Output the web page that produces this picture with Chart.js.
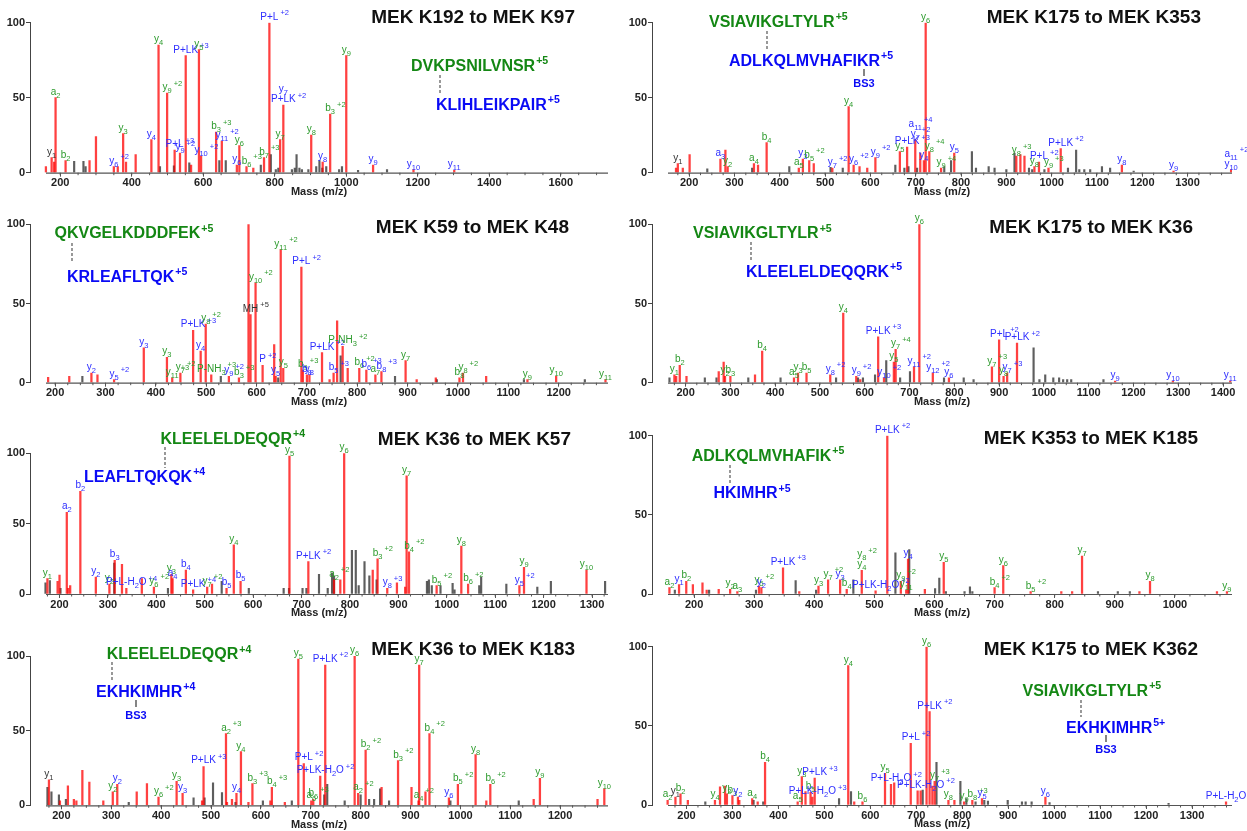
<!DOCTYPE html>
<html>
<head>
<meta charset="utf-8">
<script src="https://cdn.jsdelivr.net/npm/chart.js@4.4.1/dist/chart.umd.min.js"></script>
<style>
body { margin: 0; background: #fff; width: 1247px; height: 831px; overflow: hidden; position: relative; }
canvas { position: absolute; }
</style>
</head>
<body>
<canvas id="c1" width="620" height="200" style="left:0;top:0"></canvas>
<canvas id="c2" width="627" height="200" style="left:620px;top:0"></canvas>
<canvas id="c3" width="620" height="210" style="left:0;top:200px"></canvas>
<canvas id="c4" width="627" height="210" style="left:620px;top:200px"></canvas>
<canvas id="c5" width="620" height="210" style="left:0;top:410px"></canvas>
<canvas id="c6" width="627" height="210" style="left:620px;top:410px"></canvas>
<canvas id="c7" width="620" height="211" style="left:0;top:620px"></canvas>
<canvas id="c8" width="627" height="211" style="left:620px;top:620px"></canvas>
<script>
// matched peaks: [m/z, rel. intensity, label, label colour g/b/k]
// label markup: _ subscript digits, ^ superscript to end, | stacks lines
const p1Hit = [
  [160, 4, '', ''], [176, 10, 'y_1', 'k'], [183, 7, '', ''], [187, 50, 'a_2', 'g'], [215, 8, 'b_2', 'g'],
  [282, 8, '', ''], [300, 24, '', ''], [350, 4, 'y_6^+2', 'b'], [361, 4, '', ''], [376, 26, 'y_3', 'g'],
  [384, 7, '', ''], [411, 12, '', ''], [455, 22, 'y_4', 'b'], [475, 85, 'y_4', 'g'], [499, 53, 'y_9^+2', 'g'],
  [520, 15, 'P+L^+3', 'b'], [535, 13, 'y_9^+2', 'b'], [551, 78, 'P+LK^+3', 'b'], [566, 5, '', ''],
  [588, 82, 'y_5', 'g'], [594, 11, 'y_10^+2', 'b'], [636, 27, 'b_3^+3', 'g'], [652, 21, 'y_11^+2', 'b'],
  [694, 5, 'y_6', 'b'], [701, 18, 'y_6', 'g'], [721, 4, 'b_6^+3', 'g'], [740, 3, '', ''],
  [770, 10, 'b_7^+3', 'g'], [785, 100, 'P+L^+2', 'b'], [815, 22, 'y_7', 'g'], [824, 45, 'y_7|P+LK^+2', 'b'],
  [902, 25, 'y_8', 'g'], [934, 7, 'y_8', 'b'], [955, 39, 'b_3^+2', 'g'], [1000, 78, 'y_9', 'g'],
  [1075, 5, 'y_9', 'b'], [1188, 2, 'y_10', 'b'], [1302, 1.5, 'y_11', 'b']
];
const p1Other = [
  [239, 7.5], [265, 7.5], [271, 4], [479, 4], [518, 4.5], [561, 6.5], [645, 8], [663, 8], [761, 5],
  [789, 12], [803, 2], [810, 3], [848, 2], [856, 3], [861, 12], [869, 3], [876, 2], [894, 2], [916, 4],
  [925, 8], [933, 3], [944, 4], [980, 2], [988, 4], [1033, 1.5], [1114, 2]
];

const p2Hit = [
  [171, 3, '', ''], [175, 6, 'y_1', 'k'], [186, 3, '', ''], [201, 12, '', ''], [269, 9, 'a_3', 'b'],
  [280, 15, '', ''], [285, 4, 'y_2', 'g'], [343, 6, 'a_4', 'g'], [352, 5, '', ''], [371, 20, 'b_4', 'g'],
  [442, 3, 'a_5', 'g'], [451, 9, 'y_3', 'b'], [465, 8, 'b_5^+2', 'g'], [475, 6, '', ''], [516, 3, 'y_7^+2', 'b'],
  [552, 44, 'y_4', 'g'], [563, 5, 'y_6^+2', 'b'], [576, 4, '', ''], [593, 3, '', ''], [611, 10, 'y_9^+2', 'b'],
  [665, 14, 'y_5', 'g'], [681, 17, 'P+LK^+3', 'b'], [699, 22, 'a_11^+4|y_7^+2', 'b'], [710, 13, '', ''],
  [718, 8, 'y_4', 'b'], [722, 100, 'y_6', 'g'], [730, 14, 'y_8^+4', 'g'], [756, 3, 'y_9^+4', 'g'],
  [785, 13, 'y_5', 'b'], [922, 11, 'y_8^+3', 'g'], [931, 12, '', ''], [940, 11, '', ''], [962, 4, 'y_8', 'g'],
  [972, 7, 'P+L^+2', 'b'], [993, 3, 'y_9^+3', 'g'], [1020, 16, 'P+LK^+2', 'b'], [1155, 5, 'y_8', 'b'],
  [1269, 1, 'y_9', 'b'], [1396, 2, 'a_11^+2|y_10', 'b']
];
const p2Other = [
  [240, 2.5], [339, 3], [421, 4], [512, 3.5], [539, 3], [655, 5], [675, 3], [684, 4], [703, 3], [763, 4],
  [778, 8], [824, 14], [833, 3], [861, 4], [874, 3], [900, 2], [918, 13], [950, 3], [957, 2], [984, 2],
  [1036, 3], [1054, 15], [1061, 2], [1072, 2], [1085, 2], [1111, 4], [1129, 3], [1181, 1]
];

const p3Hit = [
  [186, 3.4, '', ''], [228, 4, '', ''], [272, 6, 'y_2', 'b'], [284, 5, '', ''], [317, 2, 'y_5^+2', 'b'],
  [376, 22, 'y_3', 'b'], [422, 16, 'y_3', 'g'], [432.5, 3, 'y_11^+3', 'g'], [448.7, 6, 'y_7^+2', 'g'],
  [474, 33, 'P+LK^+3', 'b'], [489, 20, 'y_4', 'b'], [499, 37, 'y_8^+2', 'g'], [510, 5, 'P-NH_3^+3', 'g'],
  [545, 4, 'y_9^+2', 'b'], [565, 3, 'b_3^+3', 'g'], [584, 100, '', ''], [588, 43, 'MH^+5', 'k'],
  [598, 63, 'y_10^+2', 'g'], [612, 11, 'P^+2', 'b'], [635, 24, '', ''], [638, 4, 'y_5', 'b'],
  [648, 84, 'y_11^+2', 'g'], [653, 9, 'y_5', 'g'], [689, 73, 'P+L^+2', 'b'], [692, 8, 'b_9^+3', 'g'],
  [700, 5, 'b_8', 'b'], [705, 5, 'y_8', 'b'], [730, 19, 'P+LK^+2', 'b'], [745, 2, '', ''],
  [753, 6, 'b_5^+3', 'b'], [760, 39, '', ''], [771, 23, 'P-NH_3^+2', 'g'], [781, 9, '', ''],
  [804, 9, 'b_6^+2', 'g'], [818, 8, 'b_6^+3', 'b'], [836, 5, 'a_7', 'g'], [848, 7, 'b_8^+3', 'b'],
  [896, 14, 'y_7', 'g'], [918, 2, '', ''], [956, 3, '', ''], [1003, 3, 'b_8', 'g'], [1010, 6, 'y_8^+2', 'g'],
  [1056, 4, '', ''], [1138, 2, 'y_9', 'g'], [1195, 4, 'y_10', 'g'], [1293, 2, 'y_11', 'g']
];
const p3Other = [[254, 4], [529, 4], [643, 3], [767, 17], [875, 4], [958, 2], [1131, 2], [1252, 2]];

const p4Hit = [
  [175, 5, 'y_1', 'g'], [179, 4, '', ''], [187, 11, 'b_2', 'g'], [202, 4, '', ''], [274, 7, '', ''],
  [285, 13, '', ''], [288, 4, 'y_2', 'g'], [300, 4, 'b_3', 'g'], [355, 5, '', ''], [371, 20, 'b_4', 'g'],
  [442, 3, 'a_5', 'g'], [451, 6, 'y_3', 'g'], [470, 6, 'b_5', 'g'], [523, 5, 'y_8^+2', 'b'],
  [552, 44, 'y_4', 'g'], [581, 4, 'y_9^+2', 'b'], [590, 2, '', ''], [630, 29, 'P+LK^+3', 'b'],
  [643, 3, 'y_10^+2', 'b'], [665, 13, 'y_5', 'g'], [669, 21, 'y_7^+4', 'g'], [710, 10, 'y_11^+2', 'b'],
  [722, 100, 'y_6', 'g'], [752, 6, 'y_12^+2', 'b'], [788, 3, 'y_6', 'b'], [884, 10, 'y_7^+3', 'g'],
  [900, 27, 'P+L^+2', 'b'], [910, 4, 'y_8', 'g'], [918, 6, 'y_7^+3', 'b'], [940, 25, 'P+LK^+2', 'b'],
  [1159, 1, 'y_9', 'b'], [1288, 1, 'y_10', 'b'], [1416, 1, 'y_11', 'b']
];
const p4Other = [
  [164, 3], [243, 3], [269, 3], [340, 3], [412, 3], [536, 3], [585, 3], [596, 3], [623, 5], [648, 14],
  [679, 3], [701, 7], [777, 3], [821, 3], [843, 2], [977, 22], [990, 2], [1003, 5], [1021, 3], [1034, 3],
  [1043, 2], [1052, 2], [1061, 2], [1133, 2]
];

const p5Hit = [
  [175, 11, 'y_1', 'g'], [196, 9, '', ''], [200, 13.5, '', ''], [215, 58, 'a_2', 'b'], [218, 4, '', ''],
  [222, 6, '', ''], [243, 73, 'b_2', 'b'], [275, 12, 'y_2', 'b'], [303, 7, 'y_2', 'g'], [314, 24, 'b_3', 'b'],
  [329, 21, '', ''], [338, 4, 'P+L-H_2O^+4', 'b'], [370, 11, '', ''], [395, 5, 'y_6^+2', 'g'],
  [431, 14, 'y_3', 'g'], [433.5, 11, 'a_4', 'b'], [461, 17, 'b_4', 'b'], [476, 3, 'P+LK^+4', 'b'],
  [505, 5, 'y_7^+2', 'g'], [515, 7, '', ''], [545, 4, 'b_5', 'b'], [560, 35, 'y_4', 'g'], [574, 9, 'b_5', 'b'],
  [675, 98, 'y_5', 'g'], [714, 23, 'P+LK^+2', 'b'], [767, 10, 'a_2^+2', 'g'], [780, 10, '', ''],
  [788, 100, 'y_6', 'g'], [847, 17, '', ''], [857, 25, 'b_3^+2', 'g'], [877, 4, 'y_8^+3', 'b'],
  [897, 8, '', ''], [914, 5, '', ''], [917, 84, 'y_7', 'g'], [922, 30, 'b_4^+2', 'g'], [979, 6, 'b_5^+2', 'g'],
  [1030, 34, 'y_8', 'g'], [1044, 7, 'b_6^+2', 'g'], [1150, 6, 'y_5^+2', 'b'], [1159.5, 19, 'y_9', 'g'],
  [1288.6, 17, 'y_10', 'g']
];
const p5Other = [
  [171, 8], [180, 9.5], [202, 4], [313, 22], [424, 4], [535, 9], [591, 4], [663, 4], [674, 4], [702, 4],
  [710, 4], [736, 14], [754, 4], [763, 15], [767, 13], [804, 31], [812, 31], [818, 6], [830, 23], [840, 13],
  [855, 10], [959, 9], [963, 10], [969, 6], [987, 6], [1012, 7.5], [1016, 3], [1067, 6], [1071, 12],
  [1123, 7], [1187, 5], [1215, 9], [1327, 9]
];

const p6Hit = [
  [159, 4, 'a_2', 'g'], [175, 6, 'y_1', 'b'], [187, 8, 'b_2', 'g'], [198, 6, '', ''], [214, 7, '', ''],
  [221, 2.5, '', ''], [241, 3, '', ''], [260, 3, 'y_2', 'g'], [272, 1.5, 'a_3', 'g'], [308, 5, 'y_5^+2', 'g'],
  [312, 4, 'y_2', 'b'], [348, 16.5, 'P+LK^+3', 'b'], [375, 1.5, '', ''], [407, 5, 'y_3', 'g'],
  [423, 9, 'y_7^+2', 'g'], [443, 9, 'y_3', 'b'], [454, 3, 'b_4', 'g'], [479, 15, 'y_8^+2|y_4', 'g'],
  [502, 2, 'P+LK-H_2O^+2', 'b'], [521.5, 100, 'P+LK^+2', 'b'], [544, 8, 'y_9^+2', 'g'], [553, 2.5, 'y_11', 'g'],
  [556, 22, 'y_4', 'b'], [584, 3, '', ''], [615.4, 20, 'y_5', 'g'], [700, 4, 'b_4^+2', 'g'],
  [714.4, 18, 'y_6', 'g'], [760, 1.5, 'b_5^+2', 'g'], [811, 1.5, '', ''], [829, 1.5, '', ''],
  [845.5, 24, 'y_7', 'g'], [941, 1.5, '', ''], [958.6, 8, 'y_8', 'g'], [1070, 1.5, '', ''], [1086.6, 1.5, 'y_9', 'g']
];
const p6Other = [
  [168, 2.5], [225, 2.5], [303, 2.5], [369, 8.5], [403, 2.5], [465, 9], [535, 26], [558, 28], [601, 3.5],
  [608, 10], [619, 1.5], [650, 1.5], [659, 4.5], [663, 1.5], [872, 1.5], [905, 1.5], [925, 1.5]
];

const p7Hit = [
  [175, 17, 'y_1', 'k'], [197, 3, '', ''], [213, 13, '', ''], [225, 4, '', ''], [230, 3, '', ''],
  [242, 23.5, '', ''], [256, 15.6, '', ''], [284, 3, '', ''], [303, 9, 'y_2', 'g'], [312, 14, 'y_2', 'b'],
  [351, 9, '', ''], [371.5, 14.5, '', ''], [394.7, 5.5, 'y_6^+2', 'g'], [431, 16, 'y_3', 'g'], [443, 8, 'y_3', 'b'],
  [482, 3, '', ''], [485, 26, 'P+LK^+3', 'b'], [530, 48, 'a_2^+3', 'g'], [532, 2, '', ''], [542, 4, '', ''],
  [551, 8, 'y_4', 'b'], [560, 36, 'y_4', 'g'], [575, 2, '', ''], [583, 14.5, 'b_3^+3', 'g'], [619, 3, '', ''],
  [622, 12, 'b_4^+3', 'g'], [648, 2, '', ''], [675, 98, 'y_5', 'g'], [686, 28, 'P+L^+2', 'b'],
  [701, 3, 'a_6', 'g'], [705, 4, 'b_6^+3', 'g'], [719, 19.5, 'P+LK-H_2O^+2', 'b'], [729, 94, 'P+LK^+2', 'b'],
  [788, 100, 'y_6', 'g'], [795, 8, 'a_2^+2', 'g'], [810, 37, 'b_2^+2', 'g'], [842, 12, '', ''],
  [875, 30, 'b_3^+2', 'g'], [902, 12, '', ''], [916, 3, 'a_4^+2', 'g'], [917.4, 94, 'y_7', 'g'], [930, 9, '', ''],
  [938, 48, 'b_4^+2', 'g'], [977, 5, 'y_6', 'b'], [995, 14, 'b_5^+2', 'g'], [1030.5, 34, 'y_8', 'g'],
  [1052, 3, '', ''], [1060, 14, 'b_6^+2', 'g'], [1147, 4, '', ''], [1159.5, 18, 'y_9', 'g'], [1275, 4, '', ''],
  [1288.6, 11, 'y_10', 'g']
];
const p7Other = [
  [172, 12], [180, 9], [195, 7], [209, 4], [335, 2], [465, 5], [487, 5], [504, 15], [522, 8.5], [549, 2],
  [604, 3], [662, 3], [727, 7], [733, 14], [768, 3], [800, 7], [817, 4], [827, 4], [839, 11], [857, 3],
  [980, 3], [1117, 3]
];

const p8Hit = [
  [159, 3, 'a_2', 'g'], [176, 5, 'y_1', 'k'], [187, 7, 'b_2', 'g'], [203, 3, '', ''], [262, 3, 'y_4', 'g'],
  [273, 11.5, '', ''], [284, 12, '', ''], [288, 7, 'y_2', 'g'], [300, 6, 'b_3', 'g'], [312, 5, 'y_2', 'b'],
  [315, 3, '', ''], [343, 4, 'a_4', 'g'], [355, 2, '', ''], [371, 27, 'b_4', 'g'], [442, 2, 'a_5', 'g'],
  [451, 18, 'y_3', 'g'], [459, 8.5, '', ''], [470, 8, 'b_5', 'g'], [474, 5, 'P+LK-H_2O^+3', 'b'],
  [479, 17, 'P+LK^+3', 'b'], [552, 88, 'y_4', 'g'], [565, 2, '', ''], [583, 2, 'b_6', 'g'], [632, 20, 'y_5', 'g'],
  [645, 13, 'P+L-H_2O^+2', 'b'], [652, 14, '', ''], [688, 39, 'P+L^+2', 'b'], [703, 9, '', ''],
  [709.5, 9, 'P+LK-H_2O^+2', 'b'], [722.4, 100, 'y_6', 'g'], [729, 59, 'P+LK^+2', 'b'], [735, 12, '', ''],
  [740, 15, 'y_7^+3', 'g'], [770, 3, 'y_8', 'g'], [783, 3, '', ''], [804, 2, 'y_9', 'g'], [822, 3, 'b_8^+3', 'g'],
  [843, 4, 'y_5', 'b'], [981, 5, 'y_6', 'b'], [1374, 2, 'P+L-H_2O', 'b']
];
const p8Other = [
  [241, 2], [346, 3], [367, 2], [532, 4], [558, 8.5], [714, 9.5], [744, 27], [796, 15], [809, 4], [829, 2],
  [848, 3], [856, 2.5], [899, 3], [930, 2], [938, 2], [951, 2], [990, 1.5], [1249, 1]
];

// axis ranges [min, max, major step]
const p1Axis = [115.5, 1732, 200];
const p2Axis = [118, 1398, 100];
const p3Axis = [150, 1298, 100];
const p4Axis = [125, 1420, 100];
const p5Axis = [139, 1333, 100];
const p6Axis = [130, 1095, 100];
const p7Axis = [137, 1296, 100];
const p8Axis = [125, 1387, 100];

const titles = ['MEK K192 to MEK K97', 'MEK K175 to MEK K353', 'MEK K59 to MEK K48', 'MEK K175 to MEK K36',
  'MEK K36 to MEK K57', 'MEK K353 to MEK K185', 'MEK K36 to MEK K183', 'MEK K175 to MEK K362'];
const greenPeps = ['DVKPSNILVNSR^+5', 'VSIAVIKGLTYLR^+5', 'QKVGELKDDDFEK^+5', 'VSIAVIKGLTYLR^+5',
  'KLEELELDEQQR^+4', 'ADLKQLMVHAFIK^+5', 'KLEELELDEQQR^+4', 'VSIAVIKGLTYLR^+5'];
const bluePeps = ['KLIHLEIKPAIR^+5', 'ADLKQLMVHAFIKR^+5', 'KRLEAFLTQK^+5', 'KLEELELDEQQRK^+5',
  'LEAFLTQKQK^+4', 'HKIMHR^+5', 'EKHKIMHR^+4', 'EKHKIMHR^5+'];

const FONT = '"Liberation Sans", Arial, Helvetica, sans-serif';
const RED = 'rgba(255,0,0,0.75)';
const GRAY = 'rgba(40,40,40,0.75)';
const LABEL_COLOR = { g: 'rgb(45,155,45)', b: 'rgb(45,45,255)', k: '#333' };
const PEP_COLOR = { g: 'rgb(20,135,20)', b: 'rgb(10,10,245)' };
const X_AXIS_H = 26;

// placement of each panel (canvas coords): plot box, title, peptide texts, link marks
const layout = [
  { id: 'c1', L: 30, R: 608, T: 22.7, B: 172.7, title: [575, 22.7], green: [411, 71], blue: [436, 109.5], dash: [440, 75, 94], bs3: null },
  { id: 'c2', L: 32, R: 612, T: 22.7, B: 172.7, title: [581, 22.7], green: [89, 26.7], blue: [109, 66], dash: [147, 31, 50], bs3: [244, 69, 76, 87] },
  { id: 'c3', L: 30, R: 608, T: 24.3, B: 182.7, title: [569, 33], green: [54.5, 38.3], blue: [67, 81.7], dash: [72, 43, 63], bs3: null },
  { id: 'c4', L: 32, R: 612, T: 24.3, B: 182.7, title: [573, 33], green: [73, 38.3], blue: [126, 76.7], dash: [131, 42, 61], bs3: null },
  { id: 'c5', L: 30, R: 608, T: 43.3, B: 184, title: [571, 35], green: [160.5, 34], blue: [84, 71.7], dash: [165, 37, 58], bs3: null },
  { id: 'c6', L: 32, R: 612, T: 25.7, B: 184, title: [578, 34.3], green: [71.7, 51], blue: [93.5, 88.3], dash: [110, 55, 73], bs3: null },
  { id: 'c7', L: 30, R: 608, T: 36, B: 185.3, title: [575, 35], green: [106.7, 39.3], blue: [96, 76.7], dash: [112, 42, 62], bs3: [136, 80, 87, 99] },
  { id: 'c8', L: 32, R: 612, T: 26.7, B: 185, title: [578, 35], green: [402.5, 76], blue: [446, 112.7], dash: [461, 80, 97], bs3: [486, 115, 122, 133.3] }
];
const hits = [p1Hit, p2Hit, p3Hit, p4Hit, p5Hit, p6Hit, p7Hit, p8Hit];
const others = [p1Other, p2Other, p3Other, p4Other, p5Other, p6Other, p7Other, p8Other];
const axes = [p1Axis, p2Axis, p3Axis, p4Axis, p5Axis, p6Axis, p7Axis, p8Axis];

function parseLabel(s) {
  const segs = [];
  let cur = '', i = 0;
  while (i < s.length) {
    const c = s[i];
    if (c === '_') {
      if (cur) segs.push({ t: cur, k: 'n' });
      cur = ''; i++;
      let d = '';
      while (i < s.length && /[0-9]/.test(s[i])) d += s[i++];
      segs.push({ t: d, k: 'sub' });
    } else if (c === '^') {
      if (cur) segs.push({ t: cur, k: 'n' });
      cur = '';
      segs.push({ t: s.slice(i + 1), k: 'sup' });
      i = s.length;
    } else { cur += c; i++; }
  }
  if (cur) segs.push({ t: cur, k: 'n' });
  return segs;
}

function drawRich(ctx, s, x, y, o) {
  const segs = parseLabel(s);
  const small = o.size * o.smallScale;
  const f = sz => (o.bold ? 'bold ' : '') + sz + 'px ' + FONT;
  let wMain = 0;
  segs.forEach(g => {
    ctx.font = f(g.k === 'n' ? o.size : small);
    g.w = ctx.measureText(g.t).width;
    if (g.k !== 'sup') wMain += g.w;
  });
  let cx = o.center ? x - wMain / 2 : x;
  ctx.textAlign = 'left';
  ctx.textBaseline = 'alphabetic';
  segs.forEach(g => {
    let dy = 0;
    if (g.k === 'sub') dy = o.size * 0.3;
    if (g.k === 'sup') { dy = -o.size * o.supRise; cx += o.supGap; }
    ctx.font = f(g.k === 'n' ? o.size : small);
    ctx.fillText(g.t, cx, y + dy);
    cx += g.w;
  });
}

function makeSpectrumPlugin(i) {
  const lay = layout[i], step = axes[i][2];
  return {
    id: 'spectrum' + i,
    afterDraw(chart) {
      const { ctx, chartArea: a, scales: { x, y } } = chart;
      ctx.save();
      // baseline starts a little right of the y axis, as in the original plots
      const start = a.left + 16;
      ctx.strokeStyle = '#555';
      ctx.lineWidth = 1.2;
      ctx.beginPath();
      ctx.moveTo(start, a.bottom + 0.5);
      ctx.lineTo(a.right, a.bottom + 0.5);
      ctx.stroke();
      // minor ticks
      const minor = step / 4;
      ctx.lineWidth = 1;
      for (let v = Math.ceil(x.min / minor) * minor; v <= x.max; v += minor) {
        const px = x.getPixelForValue(v);
        if (px < start) continue;
        ctx.beginPath();
        ctx.moveTo(px, a.bottom);
        ctx.lineTo(px, a.bottom + 2.5);
        ctx.stroke();
      }
      // peak labels
      hits[i].forEach(p => {
        if (!p[2]) return;
        const px = x.getPixelForValue(p[0]);
        let py = y.getPixelForValue(p[1]) - 3;
        const lines = p[2].split('|');
        ctx.fillStyle = LABEL_COLOR[p[3]];
        for (let k = lines.length - 1; k >= 0; k--) {
          drawRich(ctx, lines[k], px, py, { size: 10, bold: false, center: true, supGap: 2, supRise: 0.45, smallScale: 0.75 });
          py -= 10;
        }
      });
      // panel title
      ctx.fillStyle = '#111';
      ctx.font = 'bold 19px ' + FONT;
      ctx.textAlign = 'right';
      ctx.textBaseline = 'alphabetic';
      ctx.fillText(titles[i], lay.title[0], lay.title[1]);
      // cross-linked peptides
      const pep = { size: 16, bold: true, center: false, supGap: 1, supRise: 0.42, smallScale: 0.66 };
      ctx.fillStyle = PEP_COLOR.g;
      drawRich(ctx, greenPeps[i], lay.green[0], lay.green[1], pep);
      ctx.fillStyle = PEP_COLOR.b;
      drawRich(ctx, bluePeps[i], lay.blue[0], lay.blue[1], pep);
      ctx.strokeStyle = '#555';
      ctx.lineWidth = 1.2;
      ctx.setLineDash([3, 2]);
      ctx.beginPath();
      ctx.moveTo(lay.dash[0], lay.dash[1]);
      ctx.lineTo(lay.dash[0], lay.dash[2]);
      ctx.stroke();
      ctx.setLineDash([]);
      if (lay.bs3) {
        ctx.strokeStyle = '#333';
        ctx.beginPath();
        ctx.moveTo(lay.bs3[0], lay.bs3[1]);
        ctx.lineTo(lay.bs3[0], lay.bs3[2]);
        ctx.stroke();
        ctx.fillStyle = PEP_COLOR.b;
        ctx.font = 'bold 11px ' + FONT;
        ctx.textAlign = 'center';
        ctx.fillText('BS3', lay.bs3[0], lay.bs3[3]);
      }
      ctx.restore();
    }
  };
}

const tickFont = { family: FONT, size: 11, weight: 'bold' };

layout.forEach((lay, i) => {
  const el = document.getElementById(lay.id);
  const W = el.width, H = el.height;
  const step = axes[i][2];
  new Chart(el, {
    type: 'bar',
    data: {
      datasets: [
        { data: others[i].map(d => ({ x: d[0], y: d[1] })), backgroundColor: GRAY, barThickness: 1.5, grouped: false, order: 2 },
        { data: hits[i].map(d => ({ x: d[0], y: d[1] })), backgroundColor: RED, barThickness: 1.6, grouped: false, order: 1 }
      ]
    },
    options: {
      responsive: false,
      animation: false,
      events: [],
      layout: { padding: { left: 0, top: lay.T, right: W - lay.R, bottom: H - lay.B - X_AXIS_H } },
      plugins: { legend: { display: false }, tooltip: { enabled: false } },
      scales: {
        x: {
          type: 'linear', min: axes[i][0], max: axes[i][1], offset: false,
          border: { display: false },
          grid: { display: true, offset: false, drawOnChartArea: false, drawTicks: true, tickLength: 4, color: '#555', lineWidth: 1 },
          ticks: { autoSkip: false, maxRotation: 0, padding: 0, color: '#222', font: tickFont,
            callback: v => String(Math.round(v)) },
          afterBuildTicks: s => {
            const t = [];
            for (let v = Math.ceil(s.min / step) * step; v <= s.max + 1e-6; v += step) t.push({ value: v });
            s.ticks = t;
          },
          title: { display: true, text: 'Mass (m/z)', color: '#222', font: tickFont, padding: 0 },
          afterFit: s => { s.height = X_AXIS_H; s.paddingLeft = 0; s.paddingRight = 0; }
        },
        y: {
          min: 0, max: 100,
          border: { display: true, color: '#444', width: 1 },
          grid: { drawOnChartArea: false, drawTicks: true, tickLength: 4, color: '#444' },
          ticks: { stepSize: 50, padding: 1, color: '#222', font: tickFont },
          afterFit: s => { s.width = lay.L; s.paddingTop = 0; s.paddingBottom = 0; }
        }
      }
    },
    plugins: [makeSpectrumPlugin(i)]
  });
});
</script>
</body>
</html>
